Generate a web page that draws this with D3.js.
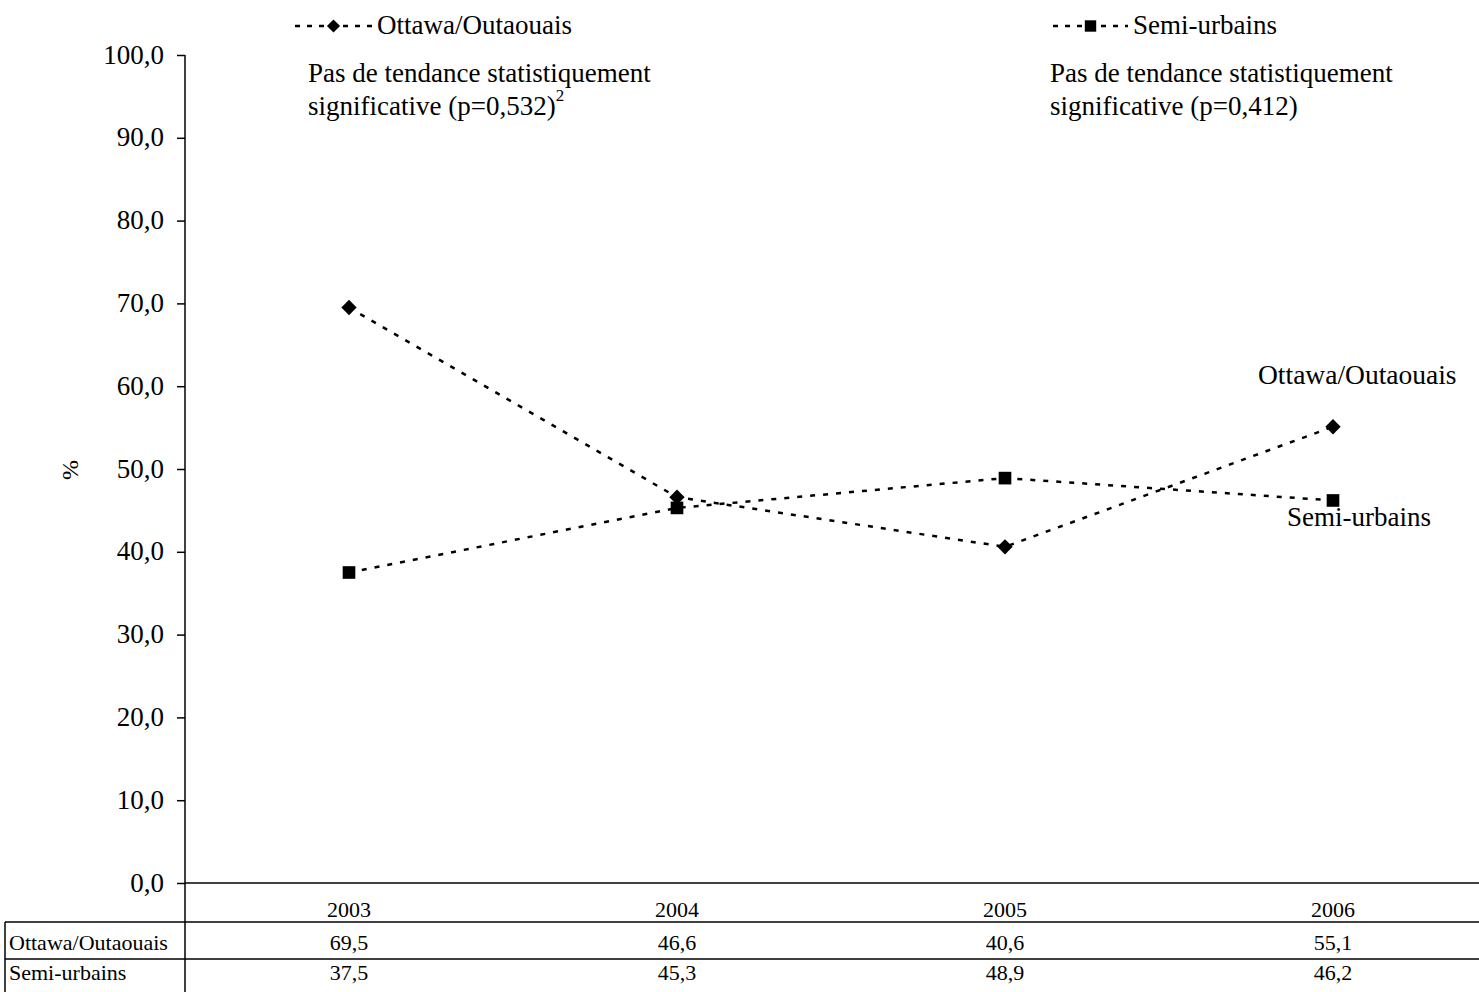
<!DOCTYPE html>
<html><head><meta charset="utf-8">
<script src="https://cdn.jsdelivr.net/npm/d3@7"></script>
<style>body{margin:0;background:#fff}svg{display:block}text{font-family:"Liberation Serif","Times New Roman",serif;fill:#000}</style>
</head><body>
<script>
const years = ["2003","2004","2005","2006"];
const ottawa = [69.5, 46.6, 40.6, 55.1];
const semi = [37.5, 45.3, 48.9, 46.2];
const seriesNames = ["Ottawa/Outaouais","Semi-urbains"];
const yTicks = [0,10,20,30,40,50,60,70,80,90,100];

const W=1479,H=992;
const svg=d3.select("body").append("svg").attr("width",W).attr("height",H);
const x=d3.scaleBand().domain(years).range([185,1497]);
const cx=d=>x(d)+x.bandwidth()/2;
const y=d3.scaleLinear().domain([0,100]).range([883,55]);
const fmt=v=>d3.format(".1f")(v).replace(".",",");

// y axis
const ya=svg.append("g").attr("transform","translate(185,0)")
  .call(d3.axisLeft(y).tickValues(yTicks).tickSize(8).tickPadding(13).tickFormat(fmt));
ya.selectAll("text").attr("font-size",27).attr("font-family","Liberation Serif").attr("fill","#000").attr("dy","0.3em");
ya.selectAll("line,path").attr("stroke","#000").attr("stroke-width",1.5);
ya.select(".domain").attr("d","M0,55V883");

// x axis line
svg.append("line").attr("x1",185).attr("x2",W).attr("y1",883).attr("y2",883).attr("stroke","#000").attr("stroke-width",1.5);

// y label
svg.append("text").attr("transform","translate(78,470) rotate(-90)").attr("text-anchor","middle").attr("font-size",24).text("%");

// lines
const series=[{name:seriesNames[0],vals:ottawa,sym:d3.symbolDiamond2,size:150},{name:seriesNames[1],vals:semi,sym:d3.symbolSquare,size:160}];
const line=d3.line().x((d,i)=>cx(years[i])).y(d=>y(d));
series.forEach(s=>{
  svg.append("path").attr("d",line(s.vals)).attr("fill","none").attr("stroke","#000").attr("stroke-width",2.5).attr("stroke-dasharray","5,8");
  svg.selectAll(null).data(s.vals).enter().append("path")
    .attr("transform",(d,i)=>`translate(${cx(years[i])},${y(d)})`)
    .attr("d",d3.symbol().type(s.sym).size(s.size)).attr("fill","#000");
});

// legend
function legend(x0,x1,sym,size,label){
  svg.append("line").attr("x1",x0).attr("x2",x1).attr("y1",26).attr("y2",26).attr("stroke","#000").attr("stroke-width",2.5).attr("stroke-dasharray","5,7");
  svg.append("path").attr("transform",`translate(${(x0+x1)/2},26)`).attr("d",d3.symbol().type(sym).size(size)).attr("fill","#000");
  svg.append("text").attr("x",x1+5).attr("y",34).attr("font-size",27).text(label);
}
legend(295,372,d3.symbolDiamond2,110,seriesNames[0]);
legend(1053,1128,d3.symbolSquare,130,seriesNames[1]);

// annotations
const a1=svg.append("text").attr("x",308).attr("font-size",27);
a1.append("tspan").attr("x",308).attr("y",82).text("Pas de tendance statistiquement");
a1.append("tspan").attr("x",308).attr("y",115).text("significative (p=0,532)");
a1.append("tspan").attr("font-size",17).attr("dy",-14).text("2");
const a2=svg.append("text").attr("font-size",27);
a2.append("tspan").attr("x",1050).attr("y",82).text("Pas de tendance statistiquement");
a2.append("tspan").attr("x",1050).attr("y",115).text("significative (p=0,412)");

// end labels
svg.append("text").attr("x",1258).attr("y",384).attr("font-size",27.5).text(seriesNames[0]);
svg.append("text").attr("x",1287).attr("y",526).attr("font-size",27).text(seriesNames[1]);

// data table
const rowBase=[950,980];
svg.append("line").attr("x1",185).attr("x2",185).attr("y1",883).attr("y2",H).attr("stroke","#000").attr("stroke-width",1.5);
svg.append("line").attr("x1",5).attr("x2",5).attr("y1",922).attr("y2",H).attr("stroke","#000").attr("stroke-width",1.5);
[922,959].forEach(yy=>svg.append("line").attr("x1",5).attr("x2",W).attr("y1",yy).attr("y2",yy).attr("stroke","#000").attr("stroke-width",1.5));
svg.selectAll(null).data(years).enter().append("text").attr("x",d=>cx(d)).attr("y",917).attr("text-anchor","middle").attr("font-size",22).text(d=>d);
series.forEach((s,r)=>{
  const yb=rowBase[r];
  svg.append("text").attr("x",9).attr("y",yb).attr("font-size",22).text(s.name);
  svg.selectAll(null).data(s.vals).enter().append("text").attr("x",(d,i)=>cx(years[i])).attr("y",yb).attr("text-anchor","middle").attr("font-size",22).text(d=>fmt(d));
});
</script>
</body></html>
